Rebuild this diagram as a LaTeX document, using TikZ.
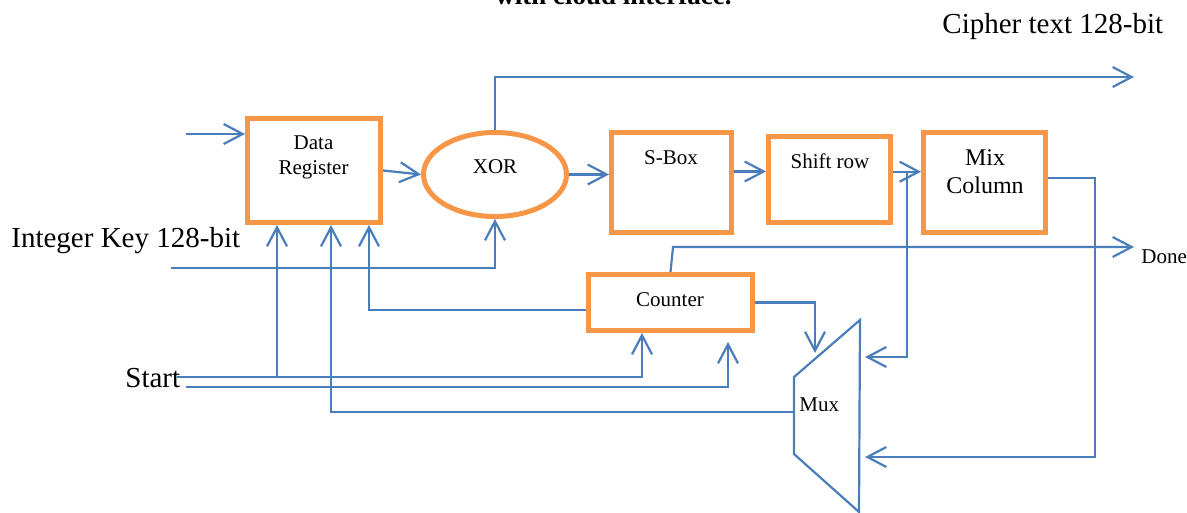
\documentclass[tikz,border=0pt]{standalone}
\usepackage{fontspec}
\setmainfont{Liberation Serif}
\usetikzlibrary{arrows.meta,shapes.geometric,calc}

\definecolor{wireblue}{RGB}{74,126,187}
\definecolor{blkorange}{RGB}{247,150,70}

\tikzset{
	blk/.style={draw=blkorange, line width=2.5pt, inner sep=0pt},
	wire/.style={draw=wireblue, line width=1.1pt},
	arr/.style={wire, -{Straight Barb[length=9.5pt,width=10pt]}},
	lbl/.style={inner sep=0pt, font=\fontsize{10.5}{12.5}\selectfont},
	biglbl/.style={inner sep=0pt, font=\fontsize{14.5}{17}\selectfont},
}

\begin{document}
\begin{tikzpicture}[x=0.5pt,y=-0.5pt]
	\useasboundingbox (0,0) rectangle (1187,513);

	% blocks of the round
	\node[blk, minimum width=66.5pt, minimum height=52pt] (dreg) at (314,170.5) {};
	\node[blk, ellipse, minimum width=71.5pt, minimum height=42pt] (xor) at (495,174.5) {};
	\node[blk, minimum width=60pt, minimum height=50pt] (sbox) at (671.5,182.5) {};
	\node[blk, minimum width=61pt, minimum height=43pt] (shift) at (829.5,179.5) {};
	\node[blk, minimum width=61pt, minimum height=50pt] (mix) at (984.5,182.5) {};
	\node[blk, minimum width=82pt, minimum height=28pt] (counter) at (670.5,302.5) {};

	% mux outline
	\coordinate (mux-nw) at (794,377);
	\coordinate (mux-ne) at (860,320);
	\coordinate (mux-se) at (859,512);
	\coordinate (mux-sw) at (794,454);
	\draw[wire] (mux-nw) -- (mux-ne) -- (mux-se) -- (mux-sw) -- cycle;
	\coordinate (mux-sel) at (815,353);
	\coordinate (mux-a) at (865,357);
	\coordinate (mux-b) at (865,457);
	\coordinate (mux-out) at (794,412);

	% free ends
	\coordinate (din) at (186,134);
	\coordinate (kin) at (171,268);
	\coordinate (st1) at (177,377);
	\coordinate (st2) at (186,387);
	\coordinate (cout) at (1134,77);
	\coordinate (done) at (1134,247);
	\coordinate (cn-up) at (673,247);
	\coordinate (mix-fb) at (1095,457);

	% pins under data register and counter
	\coordinate (dr-a) at ([xshift=-18.5pt]dreg.south);
	\coordinate (dr-b) at ([xshift=8.5pt]dreg.south);
	\coordinate (dr-c) at ([xshift=27.5pt]dreg.south);
	\coordinate (cn-a) at ([xshift=-14.25pt]counter.south);
	\coordinate (cn-b) at ([xshift=28.75pt,yshift=-4.5pt]counter.south);

	% data path
	\draw[arr] (din) -- (din -| dreg.west);
	\draw[arr] (dreg.east) -- (xor.west);
	\draw[arr] (xor.east) -- (xor.east -| sbox.west);
	\draw[arr] (sbox.10) -- (sbox.10 -| shift.west);
	\draw[arr] (shift.7) -- (shift.7 -| mix.west);
	\draw[arr] (xor.north) |- (cout);
	\draw[arr] (kin) -| (xor.south);

	% control
	\draw[arr] (st1) -| (cn-a);
	\draw[arr] (dr-a |- st1) -- (dr-a);
	\draw[arr] (st2) -| (cn-b);
	\draw[arr] ([yshift=-3.75pt]counter.west) -| (dr-c);
	\draw[arr] (counter.east) -| (mux-sel);
	\draw[arr] (counter.north) -- (cn-up) -- (done);

	% feedback through the mux
	\draw[arr] ($(shift.7)!.5!(shift.7 -| mix.west)$) |- (mux-a);
	\draw[arr] ([yshift=2.25pt]mix.east) -| (mix-fb) -- (mux-b);
	\draw[arr] (mux-out) -| (dr-b);

	% texts
	\node[inner sep=0pt, anchor=base west, font=\bfseries\fontsize{13.5}{16}\selectfont] (t-title) at (495,5) {with cloud interface.};
	\node[biglbl, anchor=base west] (t-cipher) at (942,33.5) {Cipher text 128-bit};
	\node[biglbl, anchor=base west] (t-key) at (11,248) {Integer Key 128-bit};
	\node[biglbl, anchor=base west] (t-start) at (125,387.5) {Start};
	\node[lbl, align=center] (t-dreg) at (313.5,157.3) {Data\\Register};
	\node[lbl, anchor=base] (t-xor) at (495,173.3) {XOR};
	\node[lbl, anchor=base] (t-sbox) at (671,164.3) {S-Box};
	\node[lbl, anchor=base] (t-shift) at (830,169) {Shift row};
	\node[lbl, font=\fontsize{12}{14}\selectfont, align=center] (t-mix) at (985,172) {Mix\\Column};
	\node[lbl, anchor=base] (t-counter) at (670,306.7) {Counter};
	\node[lbl, anchor=base west] (t-done) at (1141,263.3) {Done};
	\node[lbl, anchor=base west] (t-mux) at (799,411) {Mux};
\end{tikzpicture}
\end{document}
